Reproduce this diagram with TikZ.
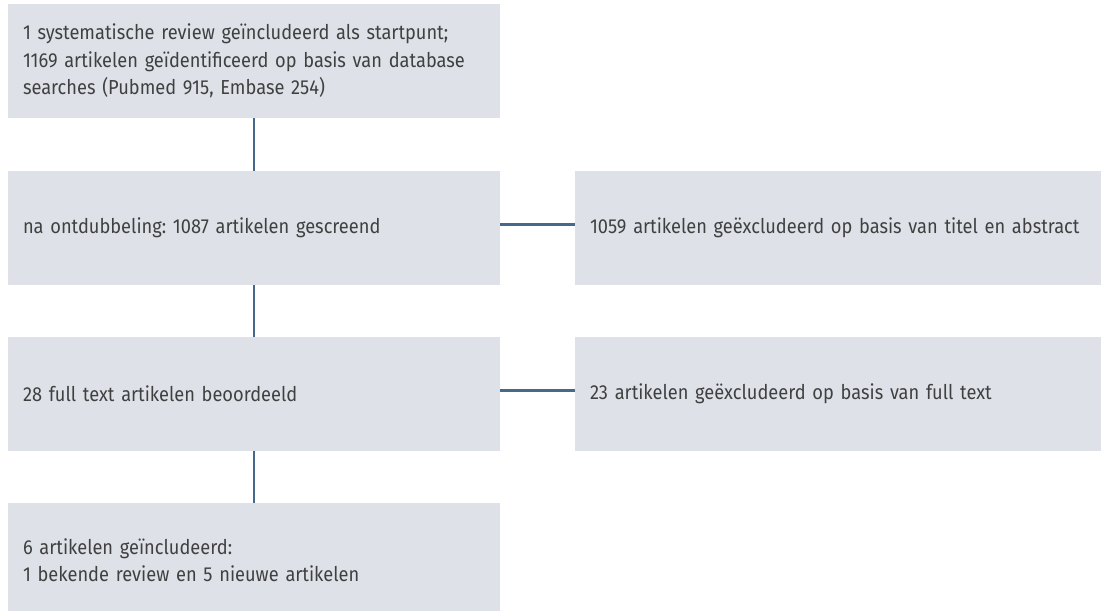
\documentclass[tikz,border=0pt]{standalone}
\usepackage{fontspec}
\setmainfont{Fira Sans}[FakeStretch=0.9]
\definecolor{boxfill}{HTML}{DEE2E8}
\definecolor{linkblue}{HTML}{45698C}
\definecolor{textgray}{HTML}{404040}
\frenchspacing

\begin{document}
\begin{tikzpicture}
  [x=0.75pt,y=0.75pt,
   stage/.style={rectangle,fill=boxfill,text=textgray,align=left,
     minimum height=85.5pt,inner xsep=11.25pt,
     font=\fontsize{15.2}{20.6}\selectfont},
   mainbox/.style={stage,text width=346.5pt},
   sidebox/.style={stage,text width=372pt},
   link/.style={draw=linkblue,line width=1.9pt}]
  \useasboundingbox (0,0) rectangle (1101,-611);
  \node[mainbox] (s1) at (254,-61)  {1 systematische review geïncludeerd als startpunt;\\
    1169 artikelen geïdentificeerd op basis van database\\
    searches (Pubmed 915, Embase 254)};
  \node[mainbox] (s2) at (254,-228) {na ontdubbeling: 1087 artikelen gescreend};
  \node[mainbox] (s3) at (254,-394) {28 full text artikelen beoordeeld};
  \node[mainbox] (s4) at (254,-560) {6 artikelen geïncludeerd:\\
    1 bekende review en 5 nieuwe artikelen};
  \node[sidebox] (x2) at (838,-228) {1059 artikelen geëxcludeerd op basis van titel en abstract};
  \node[sidebox] (x3) at (838,-394) {23 artikelen geëxcludeerd op basis van full text};
\foreach \from/\to in
{s1/s2, s2/s3, s3/s4}
    \draw[link] (\from) -- (\to);
\foreach \from/\to in
{s2/x2, s3/x3}
    \draw[link] ([yshift=2.5pt]\from.east) -- ([yshift=2.5pt]\to.west);

\end{tikzpicture}
\end{document}
